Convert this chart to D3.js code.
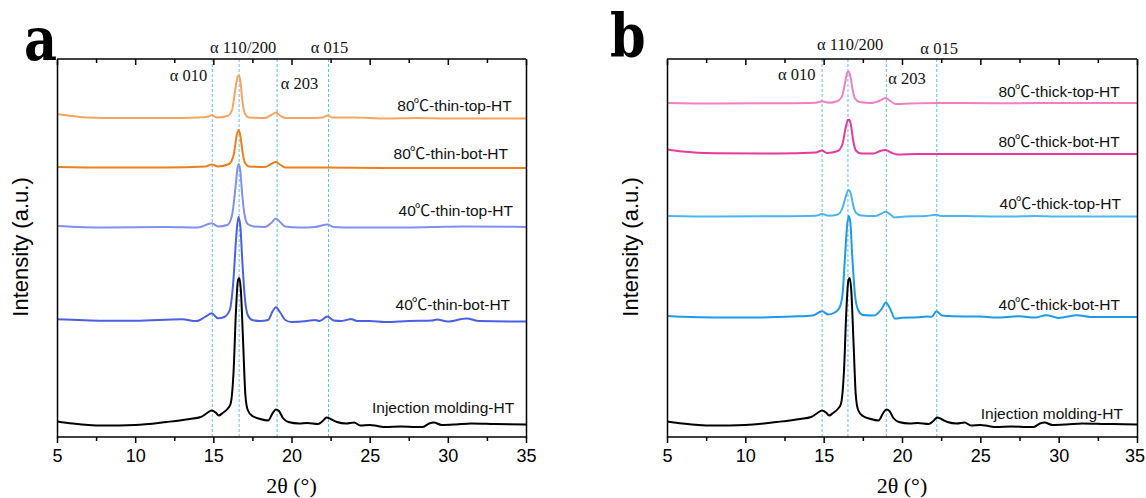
<!DOCTYPE html>
<html><head><meta charset="utf-8">
<script src="https://cdn.jsdelivr.net/npm/d3@7"></script>
<style>body{margin:0;background:#fff} svg{display:block}</style>
</head><body>
<svg id="chart" width="1146" height="498"></svg>
<script>
// ---------------- data ----------------
const twoThetaDomain = [5, 35];
const intensityDomain = [0, 378];
const majorTicks = [5, 10, 15, 20, 25, 30, 35];
const minorTicks = [7.5, 12.5, 17.5, 22.5, 27.5, 32.5];
const tickLabels = ["5", "10", "15", "20", "25", "30", "35"];

const peakNames = ["α 010", "α 110/200", "α 203", "α 015"];
const peakPositionsA = [14.93, 16.65, 19.08, 22.37];
const peakPositionsB = [14.9, 16.55, 19.0, 22.22];
// peak label anchors [2θ, intensity]
const peakLabelPosA = [[13.41, 356], [16.9, 384.3], [20.51, 348], [22.43, 384.3]];
const peakLabelPosB = [[13.28, 357.4], [16.69, 386.8], [20.32, 353.4], [22.37, 383.5]];

const injectionHT = [[5,15.5],[6,13.5],[7,12],[8,11.5],[10,12],[12,15],[13.5,18],[14.2,20],[14.6,24],[14.9,26.5],[15.15,24.5],[15.35,21.5],[15.6,24],[15.9,28],[16.1,33],[16.3,67],[16.45,127],[16.58,157],[16.66,159],[16.76,147],[16.9,97],[17.05,42],[17.2,27],[17.5,21],[18,18],[18.5,16.5],[18.8,24],[19.0,27.5],[19.2,26],[19.45,19],[19.8,15],[20.5,13.5],[21,14],[21.7,13],[22.0,16],[22.25,19.5],[22.5,18],[22.9,15],[23.5,13.5],[24,14.5],[24.4,11.5],[25,12],[25.5,11],[26,10],[27,10.5],[28,10],[28.4,10],[28.8,13.5],[29.1,14.5],[29.6,12],[30.5,12.5],[31.5,13.5],[33,13],[35,12.5]];

const thinBot40 = [[5,117.7],[8,116.3],[10,116.3],[13,117.7],[13.9,116],[14.5,120.3],[14.9,123.7],[15.3,118.7],[15.7,120],[16.05,127],[16.3,160],[16.45,197],[16.6,220],[16.72,212],[16.85,177],[17.0,142],[17.2,122],[17.5,117],[18,116],[18.5,117],[18.8,126],[19.0,129.7],[19.3,124],[19.6,117],[20,115],[21,116],[21.5,117],[21.8,116],[22.3,120.5],[22.7,116.5],[23.2,116],[23.5,117],[23.8,118],[24.2,116],[25,116],[26,115],[27.5,116],[29,116.5],[29.3,117.5],[30,115.5],[31.2,118.5],[32,116],[35,115.5]];

const thinTop40 = [[5,211],[8,209.5],[12,210],[14,209.5],[14.9,213.7],[15.3,210.5],[15.9,212],[16.2,222],[16.4,247],[16.55,269],[16.62,273],[16.72,267],[16.85,242],[17.0,222],[17.2,213],[17.6,210.5],[18.3,210],[18.7,214],[19.0,218.5],[19.3,214.5],[19.6,210.5],[20.5,209.5],[21.5,210],[22.3,212.5],[22.7,210],[24,209.5],[26,209.5],[29,210],[31,210.5],[35,210]];

const thinBot80 = [[5,270],[8,269.5],[12,269.5],[14.5,270.5],[14.9,272.5],[15.3,270.5],[16.0,273],[16.3,282],[16.5,302],[16.62,307],[16.72,302],[16.85,287],[17.0,275],[17.3,270.5],[18.3,270],[18.7,273],[19.0,275],[19.3,272],[19.6,269.5],[22,269.5],[26,269],[30,269],[35,269]];

const thinTop80 = [[5,323],[6,321],[7,319.5],[9,319],[12,319],[14,319.5],[14.7,320.5],[14.9,322],[15.2,319.5],[15.9,321],[16.2,327],[16.4,347],[16.55,360],[16.62,361.5],[16.72,357],[16.85,337],[17.0,324],[17.3,319.5],[18.3,319],[18.7,322],[19.0,324.5],[19.3,321],[19.6,319],[21,319],[22.0,319.5],[22.3,321.5],[22.6,319.5],[24,319.5],[26,318.5],[28,319],[30,318.5],[35,318.5]];

const thickTop80 = [[5,334],[8,333.5],[12,333.7],[14.5,334.2],[14.9,335.7],[15.3,334.2],[15.9,336],[16.2,342],[16.4,357],[16.52,365],[16.6,365.5],[16.7,361],[16.85,347],[17.0,338.5],[17.3,335],[18.0,334],[18.6,336.5],[18.95,339],[19.3,335.5],[19.6,333],[20.5,333.5],[22.2,334],[24,334],[27,333.7],[30,334],[35,334]];

const thickBot80 = [[5,287.5],[6,285.5],[8,283.8],[12,283.5],[14.5,284.5],[14.9,286.5],[15.2,284],[15.9,286],[16.2,293],[16.4,309],[16.55,317],[16.63,317.3],[16.73,313],[16.88,297],[17.05,286.5],[17.4,283.5],[18.2,283.5],[18.6,286],[18.95,287],[19.3,284.5],[19.7,282.5],[21,283],[24,283],[28,283],[35,283]];

const thickTop40 = [[5,221],[8,220.5],[12,220.7],[14.5,221.3],[14.9,223],[15.3,221.2],[15.9,222.5],[16.2,229],[16.4,240],[16.55,246.5],[16.62,247],[16.72,244],[16.88,232],[17.05,224.5],[17.4,221.5],[18.3,221],[18.7,223.5],[18.95,225.3],[19.3,222],[19.5,219.6],[20.2,220.5],[21.5,221],[22.2,222.3],[22.5,221],[24,221],[26,220.5],[27,220.5],[28.5,221],[30,220.4],[35,220.4]];

const thickBot40 = [[5,121.1],[6,120.2],[8,119.4],[10,119.4],[13,120.5],[14.3,121.5],[14.9,125.8],[15.3,122.5],[15.7,124.5],[16.0,129],[16.2,142],[16.35,177],[16.5,212],[16.6,221],[16.7,215],[16.82,182],[17.0,142],[17.2,127],[17.5,122],[18.2,121.5],[18.7,128],[18.97,134.5],[19.25,128],[19.55,118.4],[20,119.2],[21,119.7],[21.6,120.5],[21.9,120.2],[22.2,125.8],[22.55,121.4],[23,121],[24,120.6],[25,120.5],[26,119.4],[27.5,120.8],[28.5,119.4],[29.2,121.8],[30,119.1],[31.2,121.8],[32,120.1],[35,120.1]];

const seriesNamesA = ["80℃-thin-top-HT", "80℃-thin-bot-HT", "40℃-thin-top-HT", "40℃-thin-bot-HT", "Injection molding-HT"];
const seriesNamesB = ["80℃-thick-top-HT", "80℃-thick-bot-HT", "40℃-thick-top-HT", "40℃-thick-bot-HT", "Injection molding-HT"];
const seriesDataA = [thinTop80, thinBot80, thinTop40, thinBot40, injectionHT];
const seriesDataB = [thickTop80, thickBot80, thickTop40, thickBot40, injectionHT];
const colorsA = ["#f5a562", "#ef7e1c", "#8190f3", "#4a5fe6", "#000000"];
const colorsB = ["#f27ec4", "#e63a9c", "#4cb5f0", "#1c9be8", "#000000"];
// label anchors [2θ, intensity] (right-aligned)
const labelPosA = [[34.09, 326], [33.85, 277.7], [34.17, 221], [33.98, 127], [34.24, 23.7]];
const labelPosB = [[33.9, 340], [33.9, 289.8], [33.97, 228], [33.91, 126.8], [34.1, 18.1]];

// ---------------- drawing ----------------
const svg = d3.select("#chart");
const W = +svg.attr("width");
const sans = "'Liberation Sans', Arial, Helvetica, sans-serif";
const serif = "'Liberation Serif', 'Times New Roman', serif";

function addLabel(sel, str) {
  const parts = str.split("℃");
  parts.forEach((p, i) => {
    if (i > 0) sel.append("tspan").attr("font-family", "'Noto Sans CJK SC', 'DejaVu Sans', sans-serif").attr("dx", -1).text("℃");
    sel.append("tspan").text(p);
  });
}

function drawPanel(cfg) {
  const x = d3.scaleLinear().domain(twoThetaDomain).range([cfg.left, cfg.right]);
  const y = d3.scaleLinear().domain(intensityDomain).range([cfg.bottom, cfg.top]);
  const g = svg.append("g");

  const clipId = "clip" + cfg.id;
  svg.append("defs").append("clipPath").attr("id", clipId)
    .append("rect").attr("x", cfg.left).attr("y", cfg.top)
    .attr("width", cfg.right - cfg.left).attr("height", cfg.bottom - cfg.top);

  // reference dashed lines
  g.selectAll(".ref").data(cfg.peaks).join("line")
    .attr("x1", d => x(d)).attr("x2", d => x(d))
    .attr("y1", y(intensityDomain[0])).attr("y2", y(intensityDomain[1]))
    .attr("stroke", "#5ec0ea").attr("stroke-width", 1).attr("stroke-dasharray", "3,2");

  // curves
  const line = d3.line().x(d => x(d[0])).y(d => y(d[1])).curve(d3.curveMonotoneX);
  const cg = g.append("g").attr("clip-path", `url(#${clipId})`);
  cfg.data.forEach((s, i) => {
    cg.append("path").datum(s).attr("d", line)
      .attr("fill", "none").attr("stroke", cfg.colors[i]).attr("stroke-width", 2)
      .attr("stroke-linejoin", "round");
  });

  // axes
  const bottom = g.append("g").attr("transform", `translate(0,${cfg.bottom})`)
    .call(d3.axisBottom(x).tickValues(majorTicks).tickSize(6).tickPadding(6)
      .tickFormat((d, i) => tickLabels[i]));
  const bottomMinor = g.append("g").attr("transform", `translate(0,${cfg.bottom})`)
    .call(d3.axisBottom(x).tickValues(minorTicks).tickSize(4).tickFormat(""));
  const top = g.append("g").attr("transform", `translate(0,${cfg.top})`)
    .call(d3.axisTop(x).tickValues(majorTicks).tickSize(-6).tickFormat(""));
  const topMinor = g.append("g").attr("transform", `translate(0,${cfg.top})`)
    .call(d3.axisTop(x).tickValues(minorTicks).tickSize(-4).tickFormat(""));
  const left = g.append("g").attr("transform", `translate(${cfg.left},0)`)
    .call(d3.axisLeft(y).tickValues([]).tickSizeOuter(0));
  const right = g.append("g").attr("transform", `translate(${cfg.right},0)`)
    .call(d3.axisRight(y).tickValues([]).tickSizeOuter(0));
  [bottom, bottomMinor, top, topMinor, left, right].forEach(a => {
    a.selectAll("path").attr("stroke", "#000").attr("stroke-width", 1.5);
    a.selectAll("line").attr("stroke", "#000").attr("stroke-width", 1.5);
  });
  [bottomMinor, top, topMinor].forEach(a => a.select("path.domain").remove());
  bottom.select("path.domain").attr("d", `M${cfg.left},0H${cfg.right}`);
  top.append("line").attr("x1", cfg.left).attr("x2", cfg.right).attr("stroke", "#000").attr("stroke-width", 1.5);
  bottom.selectAll("text").attr("font-family", sans).attr("font-size", 18).attr("fill", "#000");
  // keep any tick label inside the canvas
  bottom.selectAll(".tick").each(function () {
    const t = d3.select(this).select("text");
    const bb = this.getBBox();
    const m = this.getCTM();
    const rightEdge = m.e + bb.x + bb.width;
    if (rightEdge > W - 1) t.attr("dx", -(rightEdge - (W - 1)));
  });

  // series labels
  cfg.names.forEach((n, i) => {
    const t = g.append("text").attr("x", x(cfg.labelPos[i][0])).attr("y", y(cfg.labelPos[i][1]))
      .attr("text-anchor", "end").attr("font-family", sans).attr("font-size", 15.5).attr("fill", "#111");
    addLabel(t, n);
  });

  // peak labels
  peakNames.forEach((n, i) => {
    g.append("text").attr("x", x(cfg.peakLabelPos[i][0])).attr("y", y(cfg.peakLabelPos[i][1]))
      .attr("text-anchor", "middle").attr("font-family", serif).attr("font-size", 16.5).attr("fill", "#111")
      .text(n);
  });

  // axis titles
  g.append("text").attr("x", (cfg.left + cfg.right) / 2).attr("y", 493)
    .attr("text-anchor", "middle").attr("font-family", serif).attr("font-size", 22).text("2θ (°)");
  g.append("text").attr("transform", `translate(${cfg.yTitleX},${247}) rotate(-90)`)
    .attr("text-anchor", "middle").attr("font-family", sans).attr("font-size", 22).text("Intensity (a.u.)");

  // panel letter
  g.append("text").attr("transform", `translate(${cfg.letterX},${cfg.letterY}) scale(0.85,1)`)
    .attr("font-family", "'DejaVu Serif', serif").attr("font-weight", "bold").attr("font-size", 60)
    .text(cfg.letter);
}

drawPanel({id: "a", left: 57, right: 526, top: 59, bottom: 437, peaks: peakPositionsA,
  peakLabelPos: peakLabelPosA, data: seriesDataA, names: seriesNamesA, colors: colorsA,
  labelPos: labelPosA, yTitleX: 28, letter: "a", letterX: 24, letterY: 60});
drawPanel({id: "b", left: 667, right: 1137, top: 59, bottom: 437, peaks: peakPositionsB,
  peakLabelPos: peakLabelPosB, data: seriesDataB, names: seriesNamesB, colors: colorsB,
  labelPos: labelPosB, yTitleX: 638, letter: "b", letterX: 610, letterY: 57});
</script>
</body></html>
